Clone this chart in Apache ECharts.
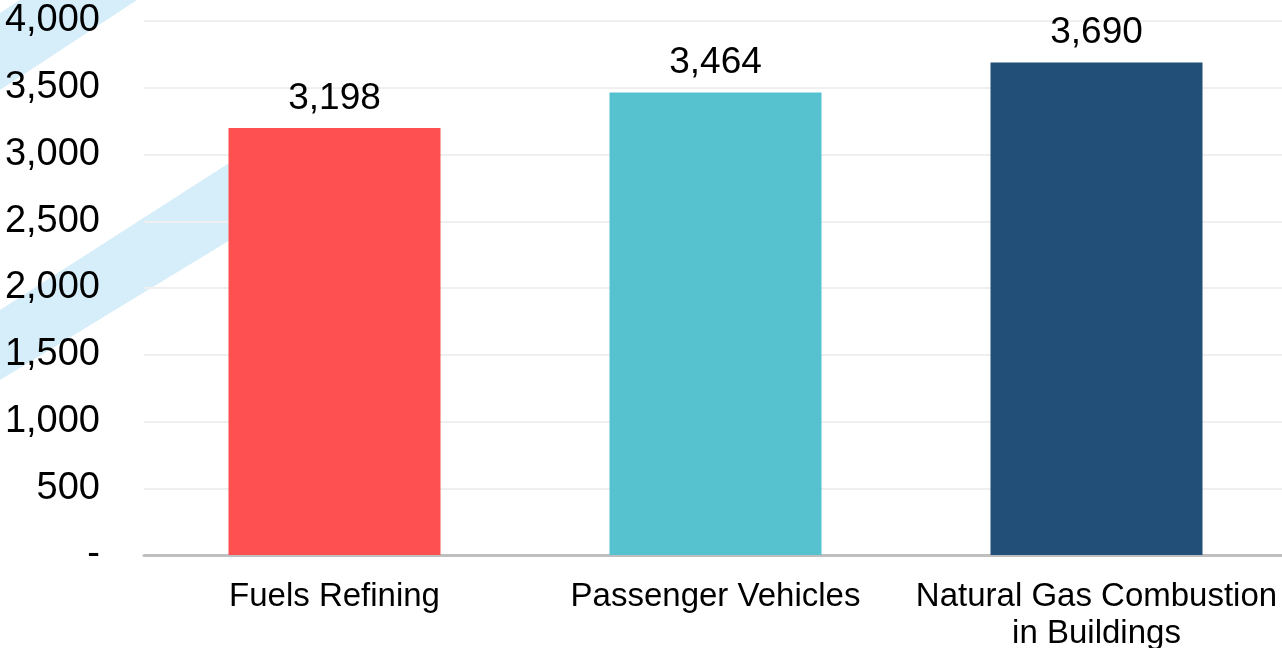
<!DOCTYPE html>
<html>
<head>
<meta charset="utf-8">
<style>
html,body{margin:0;padding:0;background:#fff;}
#chart{width:1282px;height:648px;}
</style>
<script src="https://cdn.jsdelivr.net/npm/echarts@6/dist/echarts.min.js"></script>
</head>
<body>
<div id="chart"></div>
<script>
const categories = ['Fuels Refining', 'Passenger Vehicles', 'Natural Gas Combustion\nin Buildings'];
const values = [3198, 3464, 3690];
const barColors = ['#FE5050', '#56C2CF', '#214F78'];
const yTicks = [0, 500, 1000, 1500, 2000, 2500, 3000, 3500, 4000];

const chart = echarts.init(document.getElementById('chart'));
const fmt = v => v === 0 ? '-' : v.toLocaleString('en-US');

chart.setOption({
  animation: false,
  backgroundColor: '#ffffff',
  textStyle: { fontFamily: '"Liberation Sans", Arial, sans-serif' },
  graphic: [
    {
      type: 'polygon', z: -10, silent: true,
      shape: { points: [[0, 13], [20, 0], [137, 0], [0, 90]] },
      style: { fill: '#D6EEFA' }
    },
    {
      type: 'polygon', z: -10, silent: true,
      shape: { points: [[0, 310], [240, 156], [240, 234], [0, 380]] },
      style: { fill: '#D6EEFA' }
    }
  ],
  grid: { left: 144, top: 21, width: 1143, height: 534, containLabel: false, outerBoundsMode: 'none' },
  xAxis: {
    type: 'category',
    data: categories,
    axisLine: { show: true, lineStyle: { color: '#BFBFBF', width: 3 } },
    axisTick: { show: false },
    axisLabel: {
      color: '#000', fontSize: 33, margin: 23, lineHeight: 37,
      fontFamily: '"Liberation Sans", Arial, sans-serif', interval: 0
    },
    splitLine: { show: false }
  },
  yAxis: {
    type: 'value',
    min: yTicks[0],
    max: yTicks[yTicks.length - 1],
    interval: yTicks[1] - yTicks[0],
    axisLine: { show: false },
    axisTick: { show: false },
    axisLabel: {
      color: '#000', fontSize: 38, margin: 44,
      padding: [7, 0, 0, 0],
      fontFamily: '"Liberation Sans", Arial, sans-serif',
      formatter: fmt
    },
    splitLine: { show: true, lineStyle: { color: '#EFEFEF', width: 2 } }
  },
  series: [{
    type: 'bar',
    barWidth: 212,
    data: values.map((v, i) => ({ value: v, itemStyle: { color: barColors[i] } })),
    label: {
      show: true, position: 'top', distance: 11,
      color: '#000', fontSize: 37,
      fontFamily: '"Liberation Sans", Arial, sans-serif',
      formatter: p => fmt(p.value)
    }
  }]
});
</script>
</body>
</html>
